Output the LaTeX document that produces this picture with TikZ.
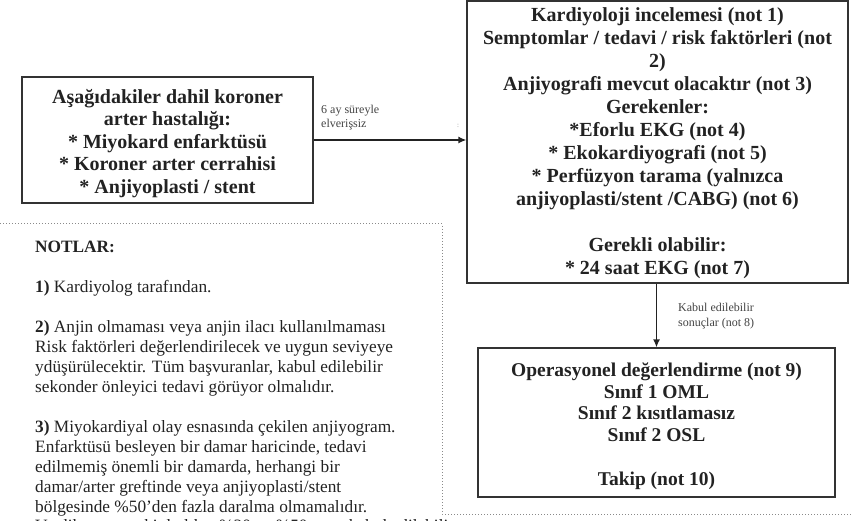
\documentclass[tikz,border=0pt]{standalone}
\usepackage{fontspec}
\setmainfont{Liberation Serif}
\usetikzlibrary{arrows.meta}
\definecolor{ink}{HTML}{222222}
\definecolor{edge}{HTML}{333333}
\definecolor{dotc}{HTML}{8A8A8A}
\begin{document}
\begin{tikzpicture}[x=1pt,y=-1pt,
  box/.style={draw=edge, line width=1.3pt, inner sep=0pt},
  boxtext/.style={align=center, text=ink, inner sep=0pt},
  lbl/.style={font=\fontsize{12}{14}\selectfont, align=left, text=ink!85, inner sep=0pt, anchor=base west},
  conn/.style={draw=ink, line width=1.3pt, -{Latex[length=8pt,width=7pt]}},
  dots/.style={draw=dotc, dotted, line width=1pt},
  notes/.style={font=\fontsize{17.3}{20}\selectfont, align=left, text=ink, inner sep=0pt, anchor=base west}]
\useasboundingbox (0,0) rectangle (851,521);
% boxes
\node[box, minimum width=291pt, minimum height=126pt] (cad) at (167.5,140) {};
\node[boxtext, font=\bfseries\fontsize{20}{22.4}\selectfont] (cadtxt) at ([yshift=-3.5pt]cad.center)
  {Aşağıdakiler dahil koroner\\ arter hastalığı:\\ * Miyokard enfarktüsü\\ * Koroner arter cerrahisi\\ * Anjiyoplasti / stent};
\node[box, minimum width=381pt, minimum height=282pt] (kard) at (657.5,142) {};
\node[boxtext, font=\bfseries\fontsize{20}{23}\selectfont] (kardtxt) at ([yshift=-1.5pt]kard.center)
  {Kardiyoloji incelemesi (not 1)\\ Semptomlar / tedavi / risk faktörleri (not\\ 2)\\ Anjiyografi mevcut olacaktır (not 3)\\ Gerekenler:\\ *Eforlu EKG (not 4)\\ * Ekokardiyografi (not 5)\\ * Perfüzyon tarama (yalnızca\\ anjiyoplasti/stent /CABG) (not 6)\\[23pt] Gerekli olabilir:\\ * 24 saat EKG (not 7)};
\node[box, minimum width=357pt, minimum height=149pt] (oper) at (656.5,422.5) {};
\node[boxtext, font=\bfseries\fontsize{19.5}{21.8}\selectfont] (opertxt) at ([yshift=-3.5pt]oper.center)
  {Operasyonel değerlendirme (not 9)\\ Sınıf 1 OML\\ Sınıf 2 kısıtlamasız\\ Sınıf 2 OSL\\[21.8pt] Takip (not 10)};
% connectors
\draw[conn] (cad.east) -- (kard.west |- cad.east);
\draw[conn] (kard.south -| oper.north) -- (oper.north);
% labels
\node[lbl] (l1) at (321,127.5) {6 ay süreyle\\ elverişsiz};
\node[lbl] (l2) at (678,326) {Kabul edilebilir\\ sonuçlar (not 8)};
\node[font=\fontsize{7}{7}\selectfont, text=dotc, inner sep=0pt] (mark) at (458,126) {:};
% dotted frame
\coordinate (d1) at (0,224);
\coordinate (d2) at (442,224);
\coordinate (d3) at (442,514);
\coordinate (d4) at (851,514);
\draw[dots] (d1) -- (d2) -- (d3) -- (d4);
% notes
\node[notes] (nt) at (35,512) {\textbf{NOTLAR:}\\[20pt]
\textbf{1)} Kardiyolog tarafından.\\[20pt]
\textbf{2)} Anjin olmaması veya anjin ilacı kullanılmaması\\
Risk faktörleri değerlendirilecek ve uygun seviyeye\\
ydüşürülecektir. Tüm başvuranlar, kabul edilebilir\\
sekonder önleyici tedavi görüyor olmalıdır.\\[20pt]
\textbf{3)} Miyokardiyal olay esnasında çekilen anjiyogram.\\
Enfarktüsü besleyen bir damar haricinde, tedavi\\
edilmemiş önemli bir damarda, herhangi bir\\
damar/arter greftinde veya anjiyoplasti/stent\\
bölgesinde \%50{\char"27}den fazla daralma olmamalıdır.};
\node[notes] (ntcut) at (35,531.5) {Verdikten sonraki darlıkta \%30 ve \%50 arası kabul edilebilir.};
\end{tikzpicture}
\end{document}
